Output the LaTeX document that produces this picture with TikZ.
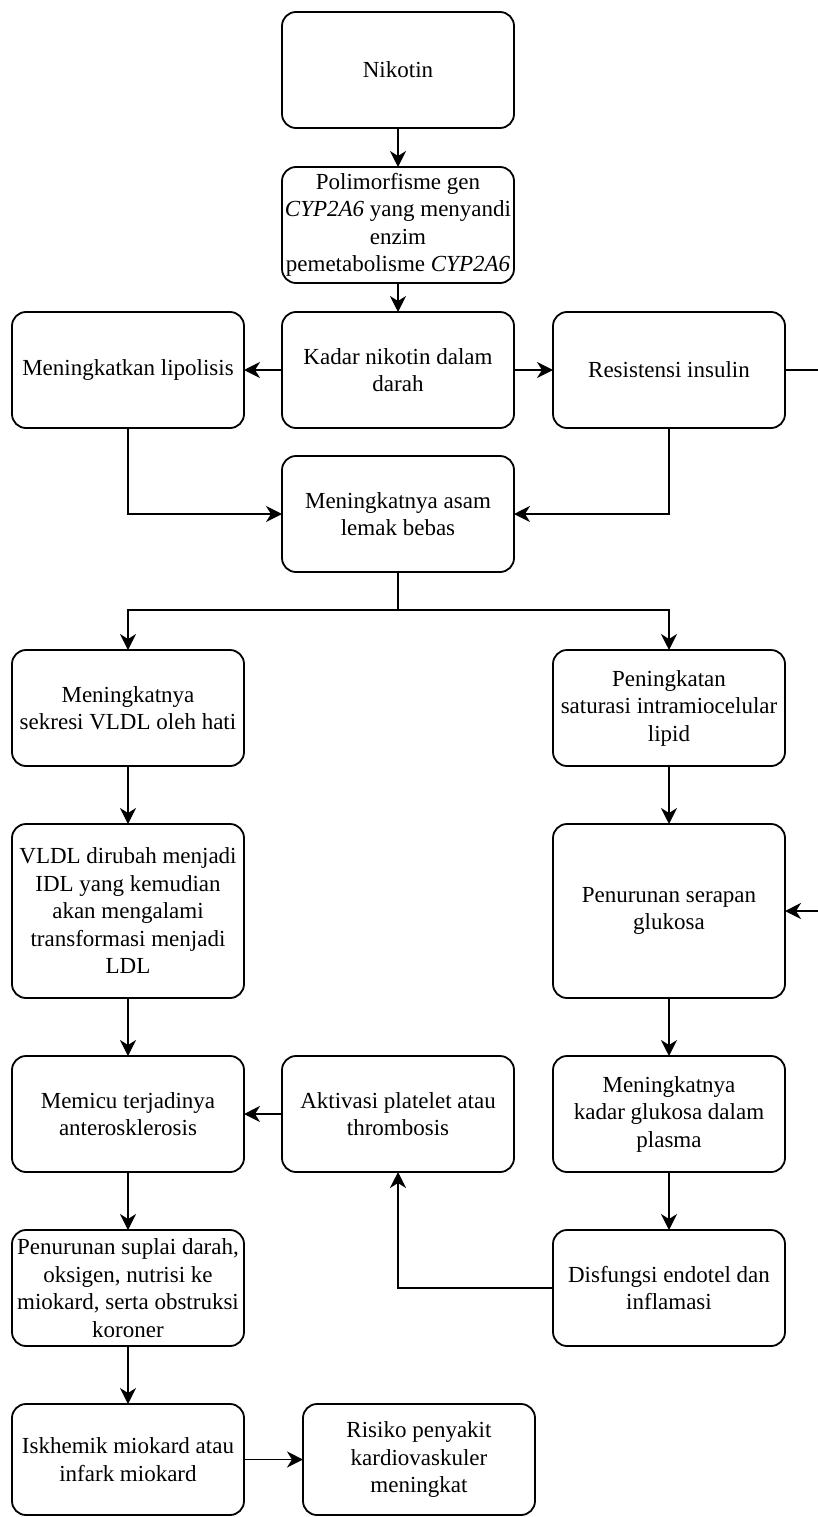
\documentclass[tikz,border=0pt]{standalone}
\usepackage{fontspec}
\setmainfont{Liberation Serif}
\usepackage{tikz}
\usetikzlibrary{arrows.meta,positioning}

\begin{document}
\begin{tikzpicture}[x=1pt, y=1pt,
    box/.style={draw, line width=1.8pt, rounded corners=14pt, minimum width=232pt, minimum height=116pt,
                align=center, inner xsep=1pt, inner ysep=1pt, outer sep=0pt, font=\fontsize{23}{27.5}\selectfont},
    arr/.style={-{Stealth[length=16pt, width=16pt, inset=5pt]}, line width=1.8pt}]
    \useasboundingbox (0,0) rectangle (817,-1517);
    \node[box] (nik) at (398,-70) {Nikotin};
    \node[box, below=39pt of nik] (poly) {Polimorfisme gen\\\textit{CYP2A6} yang menyandi\\enzim\\pemetabolisme \textit{CYP2A6}};
    \node[box, below=29pt of poly] (kadar) {Kadar nikotin dalam\\darah};
    \node[box, left=38pt of kadar] (lipo) {Meningkatkan lipolisis};
    \node[box, right=39pt of kadar] (res) {Resistensi insulin};
    \node[box, below=28pt of kadar] (asam) {Meningkatnya asam\\lemak bebas};
    \node[box, below=222pt of lipo] (vldl) {Meningkatnya\\sekresi VLDL oleh hati};
    \node[box, below=222pt of res] (sat) {Peningkatan\\saturasi intramiocelular\\lipid};
    \node[box, below=58pt of vldl, minimum height=174pt] (ldl) {VLDL dirubah menjadi\\IDL yang kemudian\\akan mengalami\\transformasi menjadi\\LDL};
    \node[box, below=58pt of sat, minimum height=174pt] (serap) {Penurunan serapan\\glukosa};
    \node[box, below=58pt of ldl] (memicu) {Memicu terjadinya\\anterosklerosis};
    \node[box, right=38pt of memicu] (akt) {Aktivasi platelet atau\\thrombosis};
    \node[box, below=58pt of serap] (gluk) {Meningkatnya\\kadar glukosa dalam\\plasma};
    \node[box, below=58pt of memicu] (suplai) {Penurunan suplai darah,\\oksigen, nutrisi ke\\miokard, serta obstruksi\\koroner};
    \node[box, below=58pt of gluk] (disf) {Disfungsi endotel dan\\inflamasi};
    \node[box, below=58pt of suplai, minimum height=111pt] (isk) {Iskhemik miokard atau\\infark miokard};
    \node[box, right=59pt of isk, minimum height=111pt] (risiko) {Risiko penyakit\\kardiovaskuler\\meningkat};
    \draw[arr] (nik) -- (poly); \draw[arr] (poly) -- (kadar);
    \draw[arr] (kadar) -- (lipo); \draw[arr] (kadar) -- (res);
    \draw[arr] (lipo.south) |- (asam.west); \draw[arr] (res.south) |- (asam.east);
    \draw[arr] (asam.south) -- ++(0,-38) -| (vldl.north);
    \draw[arr] (asam.south) -- ++(0,-38) -| (sat.north);
    \draw[arr] (vldl) -- (ldl); \draw[arr] (ldl) -- (memicu); \draw[arr] (memicu) -- (suplai);
    \draw[arr] (suplai) -- (isk); \draw[arr] (isk) -- (risiko);
    \draw[arr] (sat) -- (serap); \draw[arr] (serap) -- (gluk); \draw[arr] (gluk) -- (disf);
    \draw[arr] (disf.west) -| (akt.south); \draw[arr] (akt) -- (memicu);
    \draw[arr] (res.east) -- ++(45,0) |- (serap.east);
  \end{tikzpicture}
\end{document}
